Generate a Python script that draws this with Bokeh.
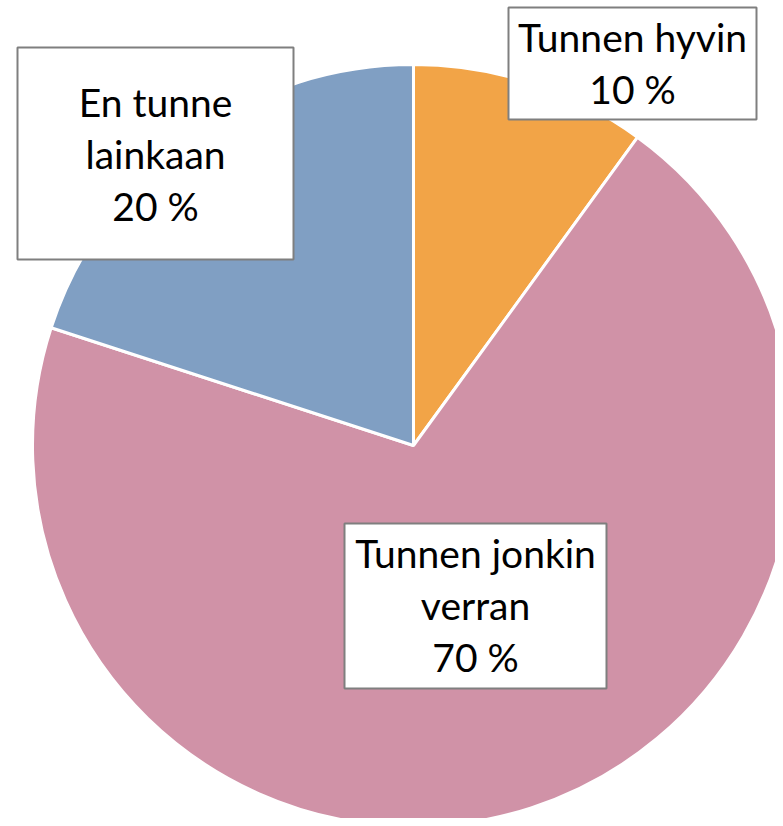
import math
from bokeh.plotting import figure
from bokeh.models import Range1d, ColumnDataSource
from bokeh.core.properties import value
from bokeh.embed import file_html
from bokeh.resources import INLINE

# ---- data ----
categories = ["Tunnen hyvin", "Tunnen jonkin verran", "En tunne lainkaan"]
values = [10, 70, 20]
colors = ["#F2A447", "#D092A7", "#809FC3"]
label_lines = [["Tunnen hyvin"], ["Tunnen jonkin", "verran"], ["En tunne", "lainkaan"]]

# ---- layout (image pixels) ----
W, H = 775, 818
cx, cy, R = 413, 445, 381
# label boxes: left, top, right, bottom, first line y
boxes = [
    (508, 7, 756, 119, 36),
    (344, 523, 606, 688, 552),
    (17, 47, 293, 259, 101),
]
line_step = 52

p = figure(width=W, height=H, output_backend="svg", toolbar_location=None,
           x_range=Range1d(0, W), y_range=Range1d(-H, 0),
           min_border=0, outline_line_color=None, background_fill_color="white")
p.axis.visible = False
p.grid.visible = False

total = sum(values)
starts, ends = [], []
cum = 0
for v in values:
    starts.append(math.pi / 2 - 2 * math.pi * cum / total)
    cum += v
    ends.append(math.pi / 2 - 2 * math.pi * cum / total)

src = ColumnDataSource(dict(start=starts, end=ends, color=colors, cat=categories))
p.wedge(x=cx, y=-cy, radius=R, start_angle="start", end_angle="end",
        direction="clock", fill_color="color", line_color="white", line_width=3,
        source=src)

for (l, t, r, b, base), lines, v in zip(boxes, label_lines, values):
    p.quad(left=[l], right=[r], top=[-t], bottom=[-b], fill_color="white",
           line_color="#7F7F7F", line_width=2)
    texts = lines + [f"{v} %"]
    xs = [(l + r) / 2] * len(texts)
    ys = [-(base + i * line_step) for i in range(len(texts))]
    p.text(x=xs, y=ys, text=texts, text_font=value("Lato"), text_font_size="39px",
           text_align="center", text_baseline="alphabetic", text_color="black")

open("out.html", "w").write(file_html(p, INLINE))
